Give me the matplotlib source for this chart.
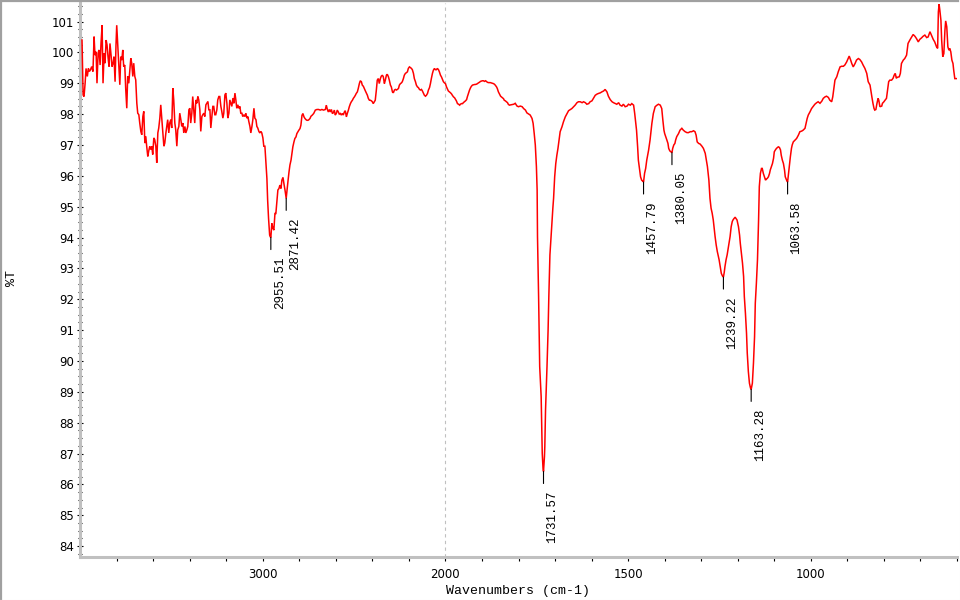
import numpy as np
import matplotlib
matplotlib.use("Agg")
import matplotlib.pyplot as plt
from matplotlib.ticker import FixedLocator, FuncFormatter, MultipleLocator, NullFormatter
from matplotlib.lines import Line2D

# ---------------- data (wavenumber cm-1, %T) ----------------
seg_4000_2988 = [
    (3989, 100.40), (3983, 98.62), (3978, 98.57), (3972, 99.00), (3967, 99.48), (3960, 99.22),
    (3954, 99.48), (3949, 99.38), (3943, 99.43), (3936, 99.54), (3929, 99.38), (3923, 100.51),
    (3918, 99.91), (3912, 100.02), (3907, 99.00), (3901, 99.97), (3896, 100.08), (3890, 99.59),
    (3885, 100.29), (3879, 100.88), (3874, 99.00), (3868, 99.97), (3863, 99.65), (3857, 100.40),
    (3852, 100.24), (3846, 99.81), (3841, 99.54), (3836, 100.29), (3830, 99.91), (3825, 99.54),
    (3819, 99.65), (3814, 99.86), (3808, 99.05), (3803, 100.24), (3799, 100.88), (3793, 100.18),
    (3788, 99.54), (3782, 98.95), (3777, 99.86), (3771, 99.75), (3766, 100.08), (3761, 99.54),
    (3755, 99.59), (3750, 98.84), (3744, 98.19), (3739, 99.22), (3733, 99.00), (3728, 99.38),
    (3722, 99.81), (3717, 99.65), (3711, 99.22), (3706, 99.65), (3700, 99.22), (3695, 99.11),
    (3689, 98.35), (3684, 98.03), (3678, 97.98), (3673, 97.71), (3667, 97.44), (3662, 97.33),
    (3656, 97.92), (3651, 98.09), (3645, 97.06), (3640, 97.28), (3635, 96.96), (3629, 96.63),
    (3624, 96.80), (3618, 96.96), (3613, 96.85), (3607, 96.96), (3602, 96.69), (3596, 97.23),
    (3591, 97.17), (3585, 96.96), (3580, 96.42), (3574, 97.39), (3569, 97.55), (3563, 97.87),
    (3558, 98.30), (3552, 97.82), (3547, 97.39), (3541, 96.96), (3536, 97.06), (3530, 97.39),
    (3525, 97.60), (3520, 97.82), (3514, 97.39), (3509, 97.71), (3503, 97.82), (3498, 97.55),
    (3492, 98.84), (3487, 98.46), (3481, 97.71), (3476, 97.49), (3470, 96.96), (3465, 97.49),
    (3459, 97.60), (3454, 98.03), (3448, 97.82), (3443, 97.60), (3437, 97.71), (3432, 97.39),
    (3426, 97.60), (3421, 97.39), (3415, 97.49), (3410, 97.60), (3404, 98.14), (3399, 98.19),
    (3394, 97.71), (3388, 98.03), (3383, 98.57), (3377, 98.09), (3372, 97.71), (3366, 98.46),
    (3361, 98.35), (3355, 98.57), (3350, 98.46), (3344, 98.14), (3339, 97.44), (3333, 97.92),
    (3328, 97.98), (3322, 98.03), (3317, 97.92), (3311, 98.30), (3306, 98.35), (3300, 98.41),
    (3295, 98.14), (3289, 98.14), (3284, 97.55), (3278, 97.92), (3273, 98.25), (3268, 98.25),
    (3262, 97.98), (3257, 97.98), (3251, 98.14), (3246, 98.46), (3240, 98.57), (3235, 98.57),
    (3229, 98.25), (3224, 98.09), (3218, 97.87), (3213, 98.03), (3207, 98.62), (3202, 98.68),
    (3196, 98.35), (3191, 97.87), (3185, 98.03), (3180, 98.46), (3174, 98.35), (3169, 98.25),
    (3163, 98.52), (3158, 98.35), (3152, 98.68), (3147, 98.46), (3142, 98.19), (3136, 98.30),
    (3131, 98.19), (3125, 98.25), (3120, 98.03), (3114, 98.03), (3109, 97.92), (3103, 97.98),
    (3098, 97.92), (3092, 98.03), (3087, 97.87), (3081, 97.92), (3076, 97.76), (3070, 97.60),
    (3065, 97.39), (3059, 97.60), (3054, 97.82), (3048, 98.19), (3043, 97.87), (3037, 97.82),
    (3032, 97.60), (3027, 97.55), (3021, 97.44), (3016, 97.39), (3010, 97.44), (3005, 97.39),
    (2999, 97.23), (2994, 96.96), (2988, 96.96),
]

seg_2984_2730 = [
    (2984, 96.56), (2977, 95.91), (2973, 95.21), (2968, 94.62), (2962, 94.08), (2959, 94.03),
    (2955.51, 94.00), (2950, 94.46), (2944, 94.30), (2939, 94.24), (2933, 94.78), (2928, 94.78),
    (2922, 95.21), (2917, 95.54), (2911, 95.59), (2906, 95.70), (2900, 95.59), (2895, 95.86),
    (2889, 95.95), (2884, 95.75), (2878, 95.54), (2871.42, 95.27), (2867, 95.54), (2862, 95.81),
    (2856, 96.13), (2851, 96.35), (2845, 96.51), (2840, 96.72), (2835, 96.94), (2829, 97.10),
    (2824, 97.21), (2818, 97.26), (2813, 97.37), (2807, 97.43), (2802, 97.48), (2796, 97.53),
    (2791, 97.64), (2785, 97.96), (2780, 98.02), (2774, 97.91), (2769, 97.86), (2763, 97.82),
    (2758, 97.80), (2752, 97.80), (2747, 97.82), (2741, 97.86), (2736, 97.93), (2730, 97.96),
]

seg_2721_1825 = [
    (2721, 98.02), (2712, 98.13), (2703, 98.15), (2694, 98.15), (2685, 98.13), (2676, 98.15),
    (2667, 98.13), (2657, 98.15), (2652, 98.29), (2646, 98.15), (2641, 98.07), (2635, 98.15),
    (2630, 98.07), (2624, 98.15), (2619, 98.02), (2614, 98.04), (2608, 98.13), (2603, 97.97),
    (2597, 98.02), (2592, 98.13), (2586, 98.07), (2581, 98.00), (2575, 98.02), (2570, 97.97),
    (2564, 98.02), (2559, 97.97), (2553, 98.07), (2548, 98.11), (2542, 97.91), (2537, 98.02),
    (2531, 98.13), (2526, 98.24), (2520, 98.34), (2515, 98.40), (2509, 98.45), (2504, 98.51),
    (2498, 98.56), (2493, 98.61), (2488, 98.67), (2482, 98.72), (2477, 98.83), (2471, 98.99),
    (2466, 99.08), (2460, 99.05), (2455, 98.94), (2449, 98.90), (2444, 98.83), (2438, 98.75),
    (2433, 98.69), (2427, 98.61), (2422, 98.51), (2416, 98.45), (2411, 98.45), (2405, 98.43),
    (2400, 98.40), (2395, 98.34), (2389, 98.40), (2384, 98.45), (2378, 98.78), (2373, 99.10),
    (2367, 99.15), (2362, 98.99), (2356, 99.15), (2351, 99.23), (2345, 99.26), (2340, 99.21),
    (2334, 98.99), (2329, 99.10), (2323, 99.26), (2318, 99.29), (2312, 99.21), (2307, 99.10),
    (2301, 98.94), (2296, 98.88), (2290, 98.72), (2285, 98.69), (2279, 98.78), (2274, 98.80),
    (2268, 98.78), (2263, 98.80), (2257, 98.83), (2252, 98.94), (2246, 98.99), (2241, 99.01),
    (2236, 99.05), (2230, 99.15), (2225, 99.26), (2219, 99.32), (2214, 99.34), (2208, 99.37),
    (2203, 99.48), (2197, 99.53), (2192, 99.51), (2186, 99.48), (2181, 99.44), (2175, 99.32),
    (2170, 99.15), (2164, 99.05), (2159, 98.94), (2153, 98.88), (2148, 98.86), (2142, 98.80),
    (2137, 98.78), (2131, 98.80), (2126, 98.75), (2120, 98.67), (2115, 98.61), (2109, 98.58),
    (2104, 98.61), (2098, 98.67), (2093, 98.78), (2087, 98.86), (2082, 98.99), (2077, 99.15),
    (2071, 99.32), (2066, 99.42), (2060, 99.48), (2055, 99.44), (2049, 99.44), (2044, 99.48),
    (2038, 99.44), (2033, 99.37), (2027, 99.26), (2022, 99.21), (2016, 99.12), (2011, 99.05),
    (2005, 99.01), (2000, 98.99), (1997, 98.88), (1994, 98.80), (1992, 98.75), (1989, 98.72),
    (1986, 98.69), (1983, 98.65), (1981, 98.61), (1978, 98.56), (1975, 98.53), (1972, 98.47),
    (1970, 98.43), (1967, 98.34), (1964, 98.32), (1961, 98.29), (1959, 98.32), (1956, 98.34),
    (1953, 98.34), (1951, 98.37), (1948, 98.40), (1945, 98.43), (1942, 98.47), (1940, 98.56),
    (1937, 98.67), (1934, 98.78), (1931, 98.86), (1929, 98.90), (1926, 98.94), (1923, 98.95),
    (1920, 98.96), (1918, 98.96), (1915, 98.97), (1912, 98.99), (1910, 99.01), (1907, 99.03),
    (1904, 99.06), (1901, 99.07), (1899, 99.08), (1896, 99.08), (1893, 99.06), (1890, 99.08),
    (1888, 99.06), (1885, 99.03), (1882, 99.02), (1879, 99.02), (1877, 99.02), (1874, 99.01),
    (1871, 99.00), (1869, 98.99), (1866, 98.97), (1863, 98.93), (1860, 98.88), (1858, 98.83),
    (1855, 98.72), (1852, 98.65), (1849, 98.58), (1847, 98.56), (1844, 98.53), (1841, 98.50),
    (1839, 98.45), (1836, 98.43), (1833, 98.40), (1830, 98.37), (1828, 98.32), (1825, 98.29),
]

seg_1813_1658 = [
    (1813, 98.32), (1809, 98.35), (1804, 98.26), (1800, 98.24), (1795, 98.26), (1790, 98.24),
    (1786, 98.18), (1781, 98.13), (1777, 98.04), (1772, 98.00), (1768, 97.97), (1763, 97.86),
    (1760, 97.70), (1757, 97.37), (1754, 97.00), (1751, 96.30), (1749, 95.54), (1748, 94.03),
    (1745, 92.09), (1742, 89.82), (1738, 88.85), (1735, 87.00), (1733, 86.55), (1731.57, 86.42),
    (1729, 86.90), (1728, 87.23), (1726, 88.42), (1722, 89.82), (1719, 91.01), (1717, 92.09),
    (1714, 93.44), (1711, 94.03), (1708, 94.57), (1706, 94.95), (1704, 95.27), (1701, 95.97),
    (1698, 96.40), (1695, 96.67), (1692, 96.89), (1689, 97.16), (1686, 97.43), (1681, 97.59),
    (1677, 97.75), (1672, 97.91), (1667, 98.02), (1663, 98.11), (1658, 98.15),
]

seg_1654_1330 = [
    (1654, 98.18), (1649, 98.24), (1645, 98.29), (1640, 98.37), (1636, 98.40), (1631, 98.40),
    (1626, 98.37), (1622, 98.40), (1617, 98.37), (1613, 98.32), (1608, 98.34), (1604, 98.40),
    (1599, 98.43), (1595, 98.51), (1590, 98.61), (1585, 98.65), (1581, 98.67), (1576, 98.69),
    (1572, 98.72), (1567, 98.75), (1563, 98.80), (1558, 98.72), (1554, 98.58), (1549, 98.47),
    (1544, 98.40), (1540, 98.37), (1535, 98.34), (1531, 98.32), (1526, 98.37), (1522, 98.29),
    (1517, 98.26), (1513, 98.32), (1508, 98.24), (1503, 98.26), (1499, 98.32), (1494, 98.29),
    (1490, 98.34), (1485, 98.29), (1482, 98.02), (1480, 97.81), (1477, 97.48), (1474, 96.94),
    (1472, 96.51), (1469, 96.24), (1466, 95.97), (1463, 95.86), (1461, 95.84), (1457.79, 95.80),
    (1455, 96.08), (1452, 96.24), (1449, 96.51), (1444, 96.83), (1440, 97.16), (1435, 97.70),
    (1431, 98.02), (1426, 98.24), (1421, 98.29), (1417, 98.32), (1412, 98.29), (1408, 98.18),
    (1405, 97.81), (1402, 97.48), (1400, 97.37), (1397, 97.27), (1394, 97.16), (1391, 97.05),
    (1389, 96.89), (1386, 96.81), (1383, 96.78), (1380.05, 96.75), (1378, 96.89), (1375, 97.00),
    (1372, 97.05), (1370, 97.16), (1367, 97.27), (1362, 97.37), (1358, 97.48), (1353, 97.54),
    (1349, 97.48), (1344, 97.43), (1339, 97.40), (1335, 97.40), (1330, 97.43),
]

seg_1326_1034 = [
    (1326, 97.43), (1321, 97.46), (1317, 97.43), (1314, 97.32), (1311, 97.10), (1307, 97.05),
    (1303, 97.03), (1298, 96.96), (1294, 96.89), (1289, 96.73), (1286, 96.51), (1283, 96.30),
    (1279, 95.86), (1276, 95.27), (1273, 94.95), (1270, 94.79), (1267, 94.57), (1265, 94.35),
    (1262, 94.03), (1259, 93.76), (1256, 93.55), (1254, 93.44), (1251, 93.28), (1248, 93.06),
    (1245, 92.84), (1242, 92.76), (1239.22, 92.72), (1237, 92.87), (1235, 93.06), (1232, 93.28),
    (1229, 93.44), (1226, 93.65), (1224, 93.81), (1221, 94.03), (1218, 94.35), (1215, 94.52),
    (1213, 94.57), (1210, 94.62), (1207, 94.66), (1205, 94.62), (1202, 94.57), (1198, 94.35),
    (1195, 94.08), (1193, 93.81), (1190, 93.49), (1187, 93.17), (1184, 92.74), (1182, 92.09),
    (1179, 91.55), (1176, 90.90), (1174, 90.26), (1171, 89.66), (1168, 89.28), (1165, 89.12),
    (1163.28, 89.08), (1160, 89.28), (1157, 89.93), (1154, 90.79), (1152, 91.87), (1149, 92.52),
    (1146, 93.28), (1143, 94.57), (1141, 95.65), (1138, 96.08), (1135, 96.24), (1133, 96.24),
    (1130, 96.08), (1127, 95.97), (1124, 95.86), (1122, 95.89), (1119, 95.92), (1116, 95.97),
    (1113, 96.08), (1111, 96.19), (1108, 96.30), (1105, 96.40), (1102, 96.57), (1100, 96.78),
    (1097, 96.84), (1094, 96.89), (1091, 96.92), (1089, 96.94), (1086, 96.92), (1083, 96.84),
    (1081, 96.67), (1078, 96.51), (1075, 96.40), (1072, 96.19), (1070, 95.97), (1066, 95.85),
    (1063.58, 95.80), (1061, 96.08), (1059, 96.30), (1056, 96.62), (1053, 96.89), (1051, 97.00),
    (1048, 97.10), (1043, 97.16), (1039, 97.21), (1034, 97.32),
]

seg_1030_600 = [
    (1030, 97.43), (1025, 97.45), (1021, 97.48), (1016, 97.54), (1013, 97.70), (1010, 97.86),
    (1007, 97.97), (1002, 98.08), (998, 98.18), (993, 98.26), (989, 98.32), (984, 98.37),
    (980, 98.40), (975, 98.35), (970, 98.42), (966, 98.51), (961, 98.56), (957, 98.58),
    (952, 98.54), (948, 98.45), (943, 98.40), (940, 98.56), (937, 98.83), (934, 99.10),
    (929, 99.21), (925, 99.37), (920, 99.53), (916, 99.55), (911, 99.55), (907, 99.59),
    (902, 99.69), (898, 99.80), (895, 99.88), (891, 99.75), (888, 99.64), (884, 99.53),
    (879, 99.64), (875, 99.75), (870, 99.80), (866, 99.77), (861, 99.69), (857, 99.59),
    (852, 99.48), (847, 99.32), (843, 99.05), (838, 98.94), (836, 98.78), (833, 98.56),
    (830, 98.35), (827, 98.18), (825, 98.13), (822, 98.15), (819, 98.35), (816, 98.51),
    (814, 98.45), (811, 98.24), (806, 98.26), (804, 98.35), (800, 98.40), (797, 98.45),
    (793, 98.51), (790, 98.78), (787, 99.05), (784, 99.10), (779, 99.10), (775, 99.16),
    (772, 99.26), (769, 99.32), (766, 99.16), (764, 99.19), (758, 99.21), (755, 99.32),
    (752, 99.64), (747, 99.75), (743, 99.80), (738, 99.91), (734, 100.29), (729, 100.40),
    (724, 100.50), (720, 100.58), (715, 100.52), (711, 100.45), (706, 100.34), (702, 100.42),
    (697, 100.47), (693, 100.52), (688, 100.56), (683, 100.48), (679, 100.50), (674, 100.67),
    (670, 100.56), (665, 100.42), (661, 100.34), (656, 100.18), (653, 100.13), (651, 101.31),
    (649, 101.56), (647, 101.37), (644, 101.04), (642, 100.40), (639, 99.86), (636, 99.96),
    (633, 100.72), (631, 101.02), (628, 100.83), (625, 100.18), (622, 100.07), (620, 100.13),
    (617, 100.02), (614, 99.75), (611, 99.64), (609, 99.42), (606, 99.15), (602, 99.15),
]

peak_wn = [2955.51, 2871.42, 1731.57, 1457.79, 1380.05, 1239.22, 1163.28, 1063.58]
peak_T = [94.00, 95.27, 86.42, 95.80, 96.75, 92.72, 89.08, 95.80]
peak_labels = ["2955.51", "2871.42", "1731.57", "1457.79", "1380.05", "1239.22", "1163.28", "1063.58"]

x_major = [3000, 2000, 1500, 1000]
x_minor = [3800, 3600, 3400, 3200, 2800, 2600, 2400, 2200,
           1900, 1800, 1700, 1600, 1400, 1300, 1200, 1100, 900, 800, 700, 600]

# ---------------- assemble ----------------
spectrum = np.array(seg_4000_2988 + seg_2984_2730 + seg_2721_1825 + seg_1813_1658
                    + seg_1654_1330 + seg_1326_1034 + seg_1030_600, dtype=float)
wn = spectrum[:, 0]
trans = spectrum[:, 1]

# ---------------- figure ----------------
fig = plt.figure(figsize=(9.6, 6.0), dpi=100)
ax = fig.add_axes([80 / 960, 43 / 600, 877 / 960, 554 / 600])


def fwd(w):
    w = np.asarray(w, dtype=float)
    return np.where(w > 2000, 2000 + (w - 2000) / 2.0, w)


def inv(u):
    u = np.asarray(u, dtype=float)
    return np.where(u > 2000, 2000 + (u - 2000) * 2.0, u)


ax.set_xscale('function', functions=(fwd, inv))
ax.set_xlim(4000, 600)
ax.set_ylim(83.65, 101.6)

ax.axvline(2000, color='#c0c0c0', lw=0.8, dashes=(3, 3), zorder=1)
ax.plot(wn, trans, color='#ff0000', lw=1.1, zorder=3, solid_joinstyle='miter')

mono = ['Liberation Mono', 'DejaVu Sans Mono']
px = 0.72
for w, t, lab in zip(peak_wn, peak_T, peak_labels):
    ax.annotate('', xy=(w, t), xytext=(0, -12 * px), textcoords='offset points',
                arrowprops=dict(arrowstyle='-', color='black', lw=0.8, shrinkA=0, shrinkB=0),
                zorder=4)
    ax.annotate(lab, xy=(w, t), xytext=(9 * px, -19 * px), textcoords='offset points',
                rotation=90, ha='center', va='top', fontsize=9, family=mono,
                color='black', zorder=4)

# axes styling
for s in ('top', 'right'):
    ax.spines[s].set_visible(False)
for s in ('left', 'bottom'):
    ax.spines[s].set_color('#c0c0c0')
    ax.spines[s].set_linewidth(2.2)

ax.xaxis.set_major_locator(FixedLocator(x_major))
ax.xaxis.set_minor_locator(FixedLocator(x_minor))
ax.xaxis.set_major_formatter(FuncFormatter(lambda v, p: '%d' % round(v)))
ax.xaxis.set_minor_formatter(NullFormatter())
ax.yaxis.set_major_locator(MultipleLocator(1))
ax.yaxis.set_minor_locator(MultipleLocator(0.25))
ax.yaxis.set_major_formatter(FuncFormatter(lambda v, p: '%d' % round(v)))

ax.tick_params(axis='x', which='both', direction='out', length=3, width=0.8,
               color='black', labelsize=8.5, pad=5)
ax.tick_params(axis='y', which='major', direction='inout', length=5, width=0.8,
               color='black', labelsize=8.5, pad=2)
ax.tick_params(axis='y', which='minor', direction='inout', length=2.5, width=0.8, color='black')

fig.text(518.5 / 960, 1 - 591 / 600, 'Wavenumbers (cm-1)', ha='center', va='center',
         fontsize=9.5, family=mono)
fig.text(12 / 960, 1 - 278 / 600, '%T', ha='center', va='center', rotation=90,
         fontsize=9.5, family=mono)

# window frame
fig.add_artist(Line2D([1 / 960, 1 / 960], [0, 1], transform=fig.transFigure,
                      color='#a0a0a0', lw=1.6))
fig.add_artist(Line2D([0, 958 / 960], [1 - 1 / 600, 1 - 1 / 600], transform=fig.transFigure,
                      color='#a0a0a0', lw=1.6))
fig.add_artist(Line2D([959.5 / 960, 959.5 / 960], [0, 1], transform=fig.transFigure,
                      color='#eeeeee', lw=0.8))
fig.add_artist(Line2D([0, 1], [0.5 / 600, 0.5 / 600], transform=fig.transFigure,
                      color='#eeeeee', lw=0.8))

fig.savefig('out.png', dpi=100)
